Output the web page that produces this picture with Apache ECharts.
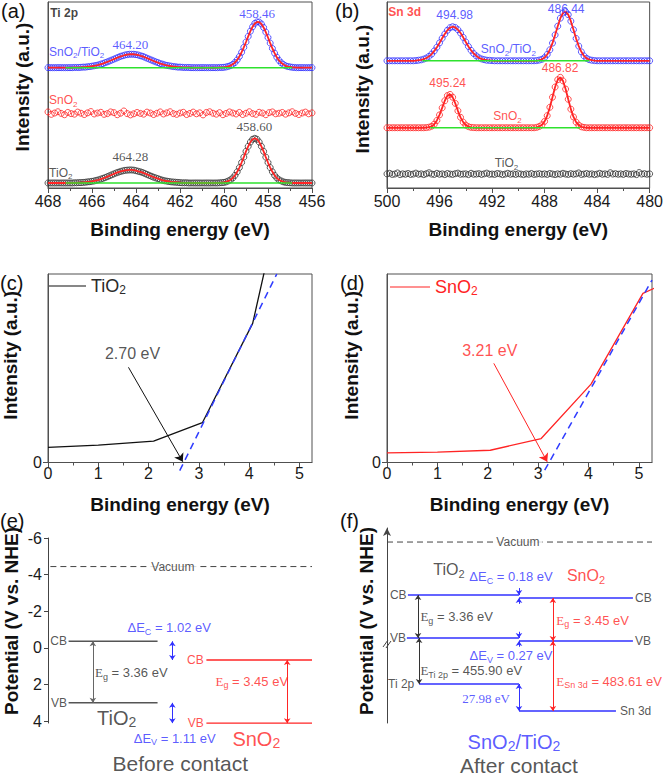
<!DOCTYPE html>
<html>
<head>
<meta charset="utf-8">
<script src="https://cdn.jsdelivr.net/npm/echarts@6.0.0/dist/echarts.min.js"></script>
<style>html,body{margin:0;padding:0;background:#fff;}#chart{width:666px;height:777px;}</style>
</head>
<body>
<div id="chart"></div>
<script>
// ================= DATA =================
// (a) Ti 2p XPS: intensities (a.u.) sampled from 468 eV downward
const ti2pStart = 468, ti2pStep = -0.1, ti2pSnO2Step = -0.15;
const ti2pSnO2TiO2 = [
 64.7,64.7,64.7,64.7,64.7,64.7,64.7,64.7,64.7,64.7,
 64.7,64.7,64.8,64.8,64.8,64.9,65.0,65.0,65.2,65.3,
 65.5,65.7,65.9,66.2,66.6,66.9,67.4,67.8,68.3,68.8,
 69.3,69.8,70.3,70.8,71.1,71.5,71.7,71.9,71.9,71.9,
 71.7,71.5,71.1,70.8,70.3,69.8,69.3,68.8,68.3,67.8,
 67.4,66.9,66.6,66.2,65.9,65.7,65.5,65.3,65.2,65.0,
 65.0,64.9,64.8,64.8,64.8,64.7,64.7,64.7,64.7,64.7,
 64.7,64.7,64.7,64.7,64.7,64.7,64.7,64.7,64.8,64.8,
 64.9,65.1,65.4,65.8,66.5,67.5,68.9,70.7,73.0,75.6,
 78.5,81.5,84.3,86.7,88.5,89.3,89.2,88.2,86.3,83.8,
 80.9,77.9,75.0,72.5,70.3,68.6,67.3,66.4,65.7,65.3,
 65.1,64.9,64.8,64.7,64.7,64.7,64.7,64.7,64.7,64.7,
 64.7];
const ti2pTiO2 = [
 2.7,2.7,2.7,2.7,2.7,2.7,2.7,2.7,2.7,2.7,
 2.7,2.7,2.8,2.8,2.9,2.9,3.0,3.1,3.3,3.4,
 3.6,3.8,4.1,4.4,4.8,5.2,5.6,6.1,6.6,7.1,
 7.6,8.1,8.5,8.9,9.2,9.5,9.6,9.7,9.7,9.6,
 9.3,9.0,8.7,8.3,7.8,7.3,6.8,6.3,5.8,5.4,
 5.0,4.6,4.2,3.9,3.7,3.5,3.3,3.2,3.1,3.0,
 2.9,2.8,2.8,2.8,2.7,2.7,2.7,2.7,2.7,2.7,
 2.7,2.7,2.7,2.7,2.7,2.7,2.7,2.7,2.8,2.9,
 3.0,3.3,3.8,4.4,5.4,6.8,8.7,11.0,13.7,16.6,
 19.7,22.4,24.7,26.2,26.7,26.2,24.7,22.4,19.7,16.6,
 13.7,11.0,8.7,6.8,5.4,4.4,3.8,3.3,3.0,2.9,
 2.8,2.7,2.7,2.7,2.7,2.7,2.7,2.7,2.7,2.7,
 2.7];
const ti2pSnO2 = [
 40.9,39.6,40.3,41.0,40.1,39.4,40.6,40.0,39.7,40.8,
 40.2,39.5,40.4,41.1,39.8,40.3,40.7,39.6,40.0,40.9,
 40.5,39.4,40.2,41.4,40.0,39.3,39.9,40.6,40.1,39.7,
 40.8,40.3,39.5,40.2,40.9,39.8,40.4,41.0,40.0,39.6,
 40.3,40.7,39.5,40.1,40.8,39.9,40.4,39.3,40.6,41.0,
 40.2,39.7,40.5,39.4,40.1,40.9,40.3,39.8,40.6,39.5,
 40.2,41.0,40.0,39.6,40.7,40.3,39.4,40.5,40.9,39.9,
 40.2,40.6,39.7,40.4,41.0,40.1,39.5,40.3,40.8,39.9,
 40.4];
const ti2pBaseline = [64.7, 2.7];          // SnO2/TiO2, TiO2
const ti2pBaselineSpan = [467.2, 456.9];
const ti2pPeakLabels = ['458.46', '464.20', '458.60', '464.28'];

// (b) Sn 3d XPS: sampled from 500 eV downward
const sn3dStart = 500, sn3dStep = -0.2;
const sn3dSnO2TiO2 = [
 68.4,68.4,68.4,68.4,68.4,68.4,68.4,68.4,68.4,68.4,
 68.4,68.5,68.7,68.9,69.3,69.9,70.8,72.0,73.7,75.7,
 78.0,80.5,82.8,84.8,86.2,86.7,86.3,85.1,83.3,81.0,
 78.5,76.1,74.0,72.3,71.0,70.0,69.4,69.0,68.7,68.6,
 68.5,68.4,68.4,68.4,68.4,68.4,68.4,68.4,68.4,68.4,
 68.4,68.4,68.4,68.4,68.4,68.4,68.4,68.5,68.8,69.2,
 70.1,71.8,74.3,77.9,82.3,87.0,91.3,94.1,94.8,93.2,
 89.7,85.1,80.4,76.3,73.2,71.0,69.7,69.0,68.7,68.5,
 68.4,68.4,68.4,68.4,68.4,68.4,68.4,68.4,68.4,68.4,
 68.4,68.4,68.4,68.4,68.4,68.4,68.4,68.4,68.4,68.4,
 68.4];
const sn3dSnO2 = [
 32.4,32.4,32.4,32.4,32.4,32.4,32.4,32.4,32.4,32.4,
 32.4,32.4,32.4,32.4,32.4,32.5,32.7,33.2,34.3,36.3,
 39.3,43.1,46.9,49.7,50.3,48.8,45.5,41.5,38.0,35.4,
 33.8,33.0,32.6,32.5,32.4,32.4,32.4,32.4,32.4,32.4,
 32.4,32.4,32.4,32.4,32.4,32.4,32.4,32.4,32.4,32.4,
 32.4,32.4,32.4,32.4,32.4,32.4,32.4,32.6,33.1,34.0,
 35.8,38.9,43.4,48.8,54.3,58.2,59.5,57.6,53.2,47.7,
 42.4,38.2,35.4,33.8,32.9,32.6,32.4,32.4,32.4,32.4,
 32.4,32.4,32.4,32.4,32.4,32.4,32.4,32.4,32.4,32.4,
 32.4,32.4,32.4,32.4,32.4,32.4,32.4,32.4,32.4,32.4,
 32.4];
const sn3dTiO2 = [
 7.6,7.9,7.3,7.5,8.1,7.2,7.6,7.4,7.8,7.3,
 7.5,8.0,7.4,7.6,7.2,7.7,8.2,7.5,7.3,7.9,
 7.4,7.6,7.2,7.8,7.5,7.3,7.7,8.0,7.4,7.5,
 7.6,7.2,7.9,7.4,7.5,7.7,7.3,7.6,8.0,7.4,
 7.5,7.3,7.8,7.6,7.2,7.5,7.9,7.4,7.6,7.3,
 7.7,7.5,7.2,7.6,7.4,7.8,7.3,7.5,7.7,7.4,
 7.6,7.3,7.8,7.5,7.2,7.6,7.4,7.9,7.5,7.3,
 7.7,7.4,7.6,8.1,7.3,7.5,7.8,7.4,7.6,7.2,
 7.5,7.9,7.4,7.6,7.3,8.2,7.5,7.7,7.4,7.6,
 7.3,7.8,7.5,7.4,7.6,7.2,8.3,7.5,7.7,7.4,
 7.6];
const sn3dBaseline = [68.4, 32.4];          // SnO2/TiO2, SnO2
const sn3dBaselineSpan = [[497.3, 484.6], [496.7, 485.3]];
const sn3dPeakLabels = ['494.98', '486.44', '495.24', '486.82'];

// (c) TiO2 valence band
const vbTiO2Energy = [0, 1.0, 2.1, 3.07, 4.07, 5.07];
const vbTiO2Intensity = [8.0, 9.2, 11.3, 21.1, 73.8, 192];
const vbTiO2FitEnergy = [2.62, 4.55];
const vbTiO2FitIntensity = [-4.3, 100];
const vbTiO2Onset = 2.70;

// (d) SnO2 valence band
const vbSnO2Energy = [0, 1.0, 2.05, 3.06, 4.05, 5.08, 6.08];
const vbSnO2Intensity = [5.1, 5.5, 6.5, 12.7, 41.6, 89.7, 101.9];
const vbSnO2FitEnergy = [3.13, 5.26];
const vbSnO2FitIntensity = [-4.1, 96.8];
const vbSnO2Onset = 3.21;

// (e) band positions before contact (V vs. NHE)
const beforeVacuum = -4.44;
const beforeTiO2 = [-0.36, 3.00];   // CB, VB
const beforeSnO2 = [0.66, 4.11];    // CB, VB
const potentialTicks = [-6, -4, -2, 0, 2, 4];

// (f) after contact (schematic level heights)
const afterVacuum = 92.8;
const afterTiO2 = [65.6, 43.6, 20.0];  // CB, VB, Ti 2p
const afterSnO2 = [64.1, 42.1, 6.2];   // CB, VB, Sn 3d

// ================= STYLE =================
const SANS = 'Liberation Sans, Arial, Helvetica, sans-serif';
const SERIF = 'Liberation Serif, Times New Roman, serif';
const BLUE = '#3131ff', RED = '#ff2424', GREEN = '#2ee22e', DARK = '#2a2a2a', GRAY = '#555555', AXIS = '#505050';

const series = [];
function pts(start, step, arr) { return arr.map((v, i) => [Math.round((start + step * i) * 100) / 100, v]); }
function pairs(xs, ys) { return xs.map((x, i) => [x, ys[i]]); }
function circles(g, data, color) {
  series.push({ type: 'scatter', xAxisIndex: g, yAxisIndex: g, data, symbol: 'circle', symbolSize: 6,
    itemStyle: { color: 'rgba(0,0,0,0)', borderColor: color, borderWidth: 1 }, z: 2, silent: true });
}
function line(g, data, color, width, extra) {
  series.push(Object.assign({ type: 'line', xAxisIndex: g, yAxisIndex: g, data, symbol: 'none',
    lineStyle: { color, width }, itemStyle: { color }, z: 3, silent: true }, extra || {}));
}
function arrow(g, p1, p2, color, sym, size) {
  series.push({ type: 'lines', coordinateSystem: 'cartesian2d', xAxisIndex: g, yAxisIndex: g,
    data: [{ coords: [p1, p2] }], symbol: sym, symbolSize: size,
    lineStyle: { color, width: 1, opacity: 1, curveness: 0 }, z: 6, silent: true });
}
function lbl(text, st) {
  st = st || {};
  const size = st.size || 13, color = st.color || DARK, fam = st.family || SANS;
  const sub = Math.round(size * 0.7);
  const lh = st.lh || size + 4;
  return { show: true, position: 'inside', formatter: text, align: st.align || 'center', verticalAlign: 'middle',
    fontSize: size, fontFamily: fam, color, fontWeight: st.bold ? 'bold' : 'normal', lineHeight: lh,
    backgroundColor: st.bg || 'transparent', padding: st.bg ? [0, 3, 0, 3] : 0,
    rich: { s: { fontSize: sub, fontFamily: fam, color, verticalAlign: 'bottom', lineHeight: sub + 1 },
            e: { fontSize: size, fontFamily: SERIF, color, lineHeight: lh } } };
}
function notes(g, items) {
  series.push({ type: 'scatter', xAxisIndex: g, yAxisIndex: g, symbol: 'circle', symbolSize: 1, clip: false, z: 10, silent: true,
    itemStyle: { color: 'rgba(0,0,0,0)' },
    data: items.map(it => ({ value: [it[0], it[1]], label: lbl(it[2], it[3]) })) });
}

// ---- (a) ----
circles(0, pts(ti2pStart, ti2pStep, ti2pSnO2TiO2), BLUE);
circles(0, pts(ti2pStart, ti2pSnO2Step, ti2pSnO2), RED);
circles(0, pts(ti2pStart, ti2pStep, ti2pTiO2), '#333');
line(0, pts(ti2pStart, ti2pStep, ti2pSnO2TiO2), RED, 1.8);
line(0, pts(ti2pStart, ti2pStep, ti2pTiO2), RED, 1.8);
ti2pBaseline.forEach(b => line(0, ti2pBaselineSpan.map(x => [x, b]), GREEN, 1.5, { z: 4 }));
notes(0, [
  [467.9, 94.1, 'Ti 2p', { bold: true, size: 12, color: '#111', align: 'left' }],
  [458.49, 93.9, ti2pPeakLabels[0], { family: SERIF, size: 13, color: BLUE }],
  [464.26, 76.9, ti2pPeakLabels[1], { family: SERIF, size: 13, color: BLUE }],
  [458.62, 32.8, ti2pPeakLabels[2], { family: SERIF, size: 13, color: DARK }],
  [464.26, 16.7, ti2pPeakLabels[3], { family: SERIF, size: 13, color: DARK }],
  [467.95, 73.2, 'SnO{s|2}/TiO{s|2}', { size: 12, color: BLUE, align: 'left' }],
  [467.95, 47.3, 'SnO{s|2}', { size: 12, color: RED, align: 'left' }],
  [467.95, 8.1, 'TiO{s|2}', { size: 12, color: DARK, align: 'left' }]
]);

// ---- (b) ----
circles(1, pts(sn3dStart, sn3dStep, sn3dSnO2TiO2), BLUE);
circles(1, pts(sn3dStart, sn3dStep, sn3dSnO2), RED);
circles(1, pts(sn3dStart, sn3dStep, sn3dTiO2), '#333');
line(1, pts(sn3dStart, sn3dStep, sn3dSnO2TiO2), RED, 1.8);
line(1, pts(sn3dStart, sn3dStep, sn3dSnO2), RED, 1.8);
sn3dBaseline.forEach((b, k) => line(1, sn3dBaselineSpan[k].map(x => [x, b]), GREEN, 1.5, { z: 4 }));
notes(1, [
  [499.9, 94.6, 'Sn 3d', { bold: true, size: 12, color: RED, align: 'left' }],
  [494.85, 93.0, sn3dPeakLabels[0], { size: 12, color: BLUE }],
  [486.36, 96.3, sn3dPeakLabels[1], { size: 12, color: BLUE }],
  [495.38, 56.5, sn3dPeakLabels[2], { size: 12, color: RED }],
  [486.82, 64.5, sn3dPeakLabels[3], { size: 12, color: RED }],
  [490.76, 74.7, 'SnO{s|2}/TiO{s|2}', { size: 12, color: BLUE }],
  [490.83, 38.7, 'SnO{s|2}', { size: 12, color: RED }],
  [490.9, 13.4, 'TiO{s|2}', { size: 12, color: DARK }]
]);

// ---- (c) ----
line(2, pairs(vbTiO2Energy, vbTiO2Intensity), '#111', 1.3, { name: 'TiO2 VB' });
line(2, pairs(vbTiO2FitEnergy, vbTiO2FitIntensity), '#2f3cff', 1.5, { clip: false, lineStyle: { color: '#2f3cff', width: 1.5, type: [7, 5] } });
arrow(2, [1.60, 50.5], [vbTiO2Onset - 0.02, 0.4], '#111', ['none', 'arrow'], 8);
notes(2, [[1.68, 57.6, vbTiO2Onset.toFixed(2) + ' eV', { size: 16, color: DARK }]]);

// ---- (d) ----
line(3, pairs(vbSnO2Energy, vbSnO2Intensity), RED, 1.3, { name: 'SnO2 VB' });
line(3, pairs(vbSnO2FitEnergy, vbSnO2FitIntensity), '#2f3cff', 1.5, { clip: false, lineStyle: { color: '#2f3cff', width: 1.5, type: [7, 5] } });
arrow(3, [2.12, 52.6], [vbSnO2Onset - 0.03, 0.4], RED, ['none', 'arrow'], 8);
notes(3, [[2.04, 59.3, vbSnO2Onset.toFixed(2) + ' eV', { size: 16, color: RED }]]);

// ---- (e) before contact ----
line(4, [[0.9, beforeVacuum], [100, beforeVacuum]], '#444', 1, { lineStyle: { color: '#444', width: 1, type: [6, 4] } });
beforeTiO2.forEach(v => line(4, [[7.8, v], [41.5, v]], GRAY, 1.5));
beforeSnO2.forEach(v => line(4, [[60, v], [100, v]], RED, 1.5));
arrow(4, [17, beforeTiO2[0]], [17, beforeTiO2[1]], '#666', ['arrow', 'arrow'], 5);
arrow(4, [47.1, beforeTiO2[0]], [47.1, beforeSnO2[0]], BLUE, ['arrow', 'arrow'], 5);
arrow(4, [47.1, beforeTiO2[1]], [47.1, beforeSnO2[1]], BLUE, ['arrow', 'arrow'], 5);
arrow(4, [90.6, beforeSnO2[0]], [90.6, beforeSnO2[1]], RED, ['arrow', 'arrow'], 5);
notes(4, [
  [47.3, beforeVacuum, 'Vacuum', { size: 12, color: DARK, bg: '#fff' }],
  [7.2, beforeTiO2[0], 'CB', { size: 12, align: 'right' }],
  [7.2, beforeTiO2[1], 'VB', { size: 12, align: 'right' }],
  [17.8, 1.36, '{e|E}{s|g} = 3.36 eV', { size: 13, align: 'left' }],
  [26.0, 3.85, 'TiO{s|2}', { size: 20, lh: 22 }],
  [48.0, 4.92, 'ΔE{s|V} = 1.11 eV', { size: 13, color: BLUE }],
  [45.9, -1.11, 'ΔE{s|C} = 1.02 eV', { size: 13, color: BLUE }],
  [59.0, beforeSnO2[0], 'CB', { size: 12, color: RED, align: 'right' }],
  [59.0, beforeSnO2[1], 'VB', { size: 12, color: RED, align: 'right' }],
  [77.2, 1.82, '{e|E}{s|g} = 3.45 eV', { size: 13, color: RED }],
  [78.9, 5.0, 'SnO{s|2}', { size: 20, color: RED, lh: 22 }],
  [50.1, 6.33, 'Before contact', { size: 21, color: DARK, lh: 22 }]
]);

// ---- (f) after contact ----
line(5, [[0, afterVacuum], [100, afterVacuum]], '#444', 1, { lineStyle: { color: '#444', width: 1, type: [6, 4] } });
[[7.9, 49.8], [7.5, 49.8], [12.1, 49.8]].forEach((s, k) => line(5, s.map(x => [x, afterTiO2[k]]), BLUE, 1.5));
[[49.8, 92.8], [49.8, 92.8], [49.8, 86.4]].forEach((s, k) => line(5, s.map(x => [x, afterSnO2[k]]), BLUE, 1.5));
arrow(5, [11.7, afterTiO2[0]], [11.7, afterTiO2[1]], '#333', ['arrow', 'arrow'], 5);
arrow(5, [12.1, afterTiO2[1]], [12.1, afterTiO2[2]], '#333', ['arrow', 'arrow'], 5);
arrow(5, [49.8, afterTiO2[0] + 3.6], [49.8, afterTiO2[0]], BLUE, ['none', 'arrow'], 5);
arrow(5, [49.8, afterSnO2[0] - 3.0], [49.8, afterSnO2[0]], BLUE, ['none', 'arrow'], 5);
arrow(5, [49.8, afterTiO2[1] + 3.2], [49.8, afterTiO2[1]], BLUE, ['none', 'arrow'], 5);
arrow(5, [49.8, afterSnO2[1] - 3.0], [49.8, afterSnO2[1]], BLUE, ['none', 'arrow'], 5);
arrow(5, [49.8, afterTiO2[2]], [49.8, afterSnO2[2]], BLUE, ['arrow', 'arrow'], 5);
arrow(5, [62.6, afterSnO2[0]], [62.6, afterSnO2[1]], RED, ['arrow', 'arrow'], 5);
arrow(5, [62.6, afterSnO2[1]], [62.6, afterSnO2[2]], RED, ['arrow', 'arrow'], 5);
notes(5, [
  [49.4, afterVacuum, 'Vacuum', { size: 12, color: DARK, bg: '#fff' }],
  [23.4, 78.5, 'TiO{s|2}', { size: 16 }],
  [75.1, 75.4, 'SnO{s|2}', { size: 16, color: RED }],
  [46.8, 74.9, 'ΔE{s|C} = 0.18 eV', { size: 13, color: BLUE }],
  [46.8, 34.4, 'ΔE{s|V} = 0.27 eV', { size: 13, color: BLUE }],
  [1.1, afterTiO2[0], 'CB', { size: 12, align: 'left' }],
  [1.1, afterTiO2[1], 'VB', { size: 12, align: 'left' }],
  [0.4, afterTiO2[2], 'Ti 2p', { size: 12, align: 'left' }],
  [93.6, afterSnO2[0], 'CB', { size: 12, align: 'left' }],
  [93.6, afterSnO2[1], 'VB', { size: 12, align: 'left' }],
  [87.9, afterSnO2[2], 'Sn 3d', { size: 12, align: 'left' }],
  [12.6, 54.5, '{e|E}{s|g} = 3.36 eV', { size: 13, align: 'left' }],
  [63.9, 52.8, '{e|E}{s|g} = 3.45 eV', { size: 13, color: RED, align: 'left' }],
  [12.6, 26.7, '{e|E}{s|Ti 2p} = 455.90 eV', { size: 13, align: 'left' }],
  [63.9, 21.5, '{e|E}{s|Sn 3d} = 483.61 eV', { size: 13, color: RED, align: 'left' }],
  [46.4, 12.8, '27.98 eV', { size: 13, color: BLUE, family: SERIF, align: 'right' }],
  [47.9, -9.7, 'SnO{s|2}/TiO{s|2}', { size: 20, color: BLUE, lh: 22 }],
  [49.8, -21.6, 'After contact', { size: 21, color: DARK, lh: 22 }]
]);

// ================= AXES =================
const lineStyle = { color: AXIS, width: 1 };
const nameStyle = { fontSize: 19, fontWeight: 'bold', color: '#111', fontFamily: SANS };
function beAxis(g, min, max, interval, extra) {
  return Object.assign({ gridIndex: g, type: 'value', min, max, interval,
    axisLine: { show: true, onZero: false, lineStyle }, axisTick: { show: true, inside: false, length: 5, lineStyle },
    minorTick: { show: true, splitNumber: 2, length: 3, lineStyle }, splitLine: { show: false }, minorSplitLine: { show: false },
    axisLabel: { fontSize: 16, color: '#1a1a1a', fontFamily: SANS, margin: 5 },
    name: 'Binding energy (eV)', nameLocation: 'middle', nameGap: 32, nameTextStyle: nameStyle }, extra || {});
}
const vbTicks = [0, 1, 2, 3, 4, 5];
const vbMinorTicks = [0.5, 1.5, 2.5, 3.5, 4.5];
const xAxis = [
  beAxis(0, 456, 468, 2, { inverse: true }),
  beAxis(1, 480, 500, 4, { inverse: true }),
  beAxis(2, 0, 5.25, 1, { minorTick: { show: false }, axisTick: { show: true, length: 5, lineStyle, customValues: vbTicks },
    axisLabel: { fontSize: 16, color: '#1a1a1a', fontFamily: SANS, margin: 3, customValues: vbTicks } }),
  beAxis(3, 0, 5.26, 1, { minorTick: { show: false }, axisTick: { show: true, length: 5, lineStyle, customValues: vbTicks },
    axisLabel: { fontSize: 16, color: '#1a1a1a', fontFamily: SANS, margin: 3, customValues: vbTicks } }),
  { gridIndex: 4, type: 'value', min: 0, max: 100, show: false },
  { gridIndex: 5, type: 'value', min: 0, max: 100, show: false },
  { gridIndex: 2, type: 'value', min: 0, max: 5.25, position: 'bottom', offset: 0, axisLine: { show: false },
    axisLabel: { show: false }, splitLine: { show: false }, axisTick: { show: true, length: 3, lineStyle, customValues: vbMinorTicks } },
  { gridIndex: 3, type: 'value', min: 0, max: 5.26, position: 'bottom', offset: 0, axisLine: { show: false },
    axisLabel: { show: false }, splitLine: { show: false }, axisTick: { show: true, length: 3, lineStyle, customValues: vbMinorTicks } }
];
function intAxis(g, gap, pad, extra) {
  return Object.assign({ gridIndex: g, type: 'value', min: 0, max: 100,
    axisLine: { show: true, onZero: false, lineStyle }, axisTick: { show: false }, axisLabel: { show: false }, splitLine: { show: false },
    name: 'Intensity (a.u.)', nameLocation: 'middle', nameGap: gap,
    nameTextStyle: Object.assign({ padding: [0, 0, 0, pad] }, nameStyle) }, extra || {});
}
const zeroOnly = { axisTick: { show: true, length: 5, lineStyle, customValues: [0] },
  axisLabel: { show: true, fontSize: 16, color: '#1a1a1a', fontFamily: SANS, margin: 6, customValues: [0] } };
const yAxis = [
  intAxis(0, 16, 16),
  intAxis(1, 15, 12),
  intAxis(2, 28, 26, zeroOnly),
  intAxis(3, 26, 26, zeroOnly),
  { gridIndex: 4, type: 'value', inverse: true, min: -6, max: 4.1,
    axisLine: { show: true, onZero: false, lineStyle: { color: '#444', width: 1 } },
    axisTick: { show: true, length: 4, lineStyle: { color: '#444' }, customValues: potentialTicks },
    axisLabel: { fontSize: 16, color: '#1a1a1a', fontFamily: SANS, margin: 6, customValues: potentialTicks },
    splitLine: { show: false }, name: 'Potential (V vs. NHE)', nameLocation: 'middle', nameGap: 27,
    nameTextStyle: Object.assign({ padding: [0, 0, 0, 19] }, nameStyle) },
  { gridIndex: 5, type: 'value', min: 0, max: 100,
    axisLine: { show: true, onZero: false, symbol: ['none', 'arrow'], symbolSize: [6, 8], lineStyle: { color: '#444', width: 1 } },
    axisTick: { show: false }, axisLabel: { show: false }, splitLine: { show: false },
    name: 'Potential (V vs. NHE)', nameLocation: 'middle', nameGap: 11,
    nameTextStyle: Object.assign({ padding: [0, 0, 0, 9] }, nameStyle) }
];

const frame = { show: true, borderColor: AXIS, borderWidth: 1, backgroundColor: 'rgba(0,0,0,0)' };
const panelLetter = (t, left, top) => ({ text: t, left, top, padding: 0,
  textStyle: { fontSize: 20, fontWeight: 'normal', color: '#111', fontFamily: SANS } });
const legendText = (color) => ({ fontSize: 18, color, fontFamily: SANS, lineHeight: 20,
  rich: { s: { fontSize: 12, color, fontFamily: SANS, verticalAlign: 'bottom', lineHeight: 12 } } });
const lineIcon = 'path://M0,0L40,0L40,1L0,1Z';

const option = {
  animation: false,
  backgroundColor: '#fff',
  title: [panelLetter('(a)', 1, 1), panelLetter('(b)', 335, 1), panelLetter('(c)', 0, 273),
          panelLetter('(d)', 340, 273), panelLetter('(e)', 0, 511), panelLetter('(f)', 340, 511)],
  legend: [
    { data: ['TiO2 VB'], left: 49, top: 276, icon: lineIcon, itemWidth: 37, itemHeight: 1.4, itemGap: 0, padding: 0, selectedMode: false,
      formatter: () => 'TiO{s|2}', textStyle: legendText(DARK) },
    { data: ['SnO2 VB'], left: 390, top: 277, icon: lineIcon, itemWidth: 40, itemHeight: 1.4, itemGap: 0, padding: 0, selectedMode: false,
      formatter: () => 'SnO{s|2}', textStyle: legendText(RED) }
  ],
  grid: [
    Object.assign({ left: 48, top: 2, width: 264, height: 186 }, frame),
    Object.assign({ left: 387, top: 2, width: 265, height: 186 }, frame),
    Object.assign({ left: 48, top: 274, width: 264, height: 188.5 }, frame),
    Object.assign({ left: 387, top: 274, width: 265, height: 188.5 }, frame),
    { left: 48, top: 538, width: 264, height: 185 },
    { left: 387, top: 528, width: 265, height: 195 }
  ],
  graphic: [
    { type: 'line', shape: { x1: 383, y1: 647, x2: 388, y2: 640 }, style: { stroke: '#444', lineWidth: 1 } },
    { type: 'line', shape: { x1: 386, y1: 648, x2: 391, y2: 641 }, style: { stroke: '#444', lineWidth: 1 } }
  ],
  xAxis, yAxis, series
};

const chart = echarts.init(document.getElementById('chart'), null, { renderer: 'svg' });
chart.setOption(option);
</script>
</body>
</html>
